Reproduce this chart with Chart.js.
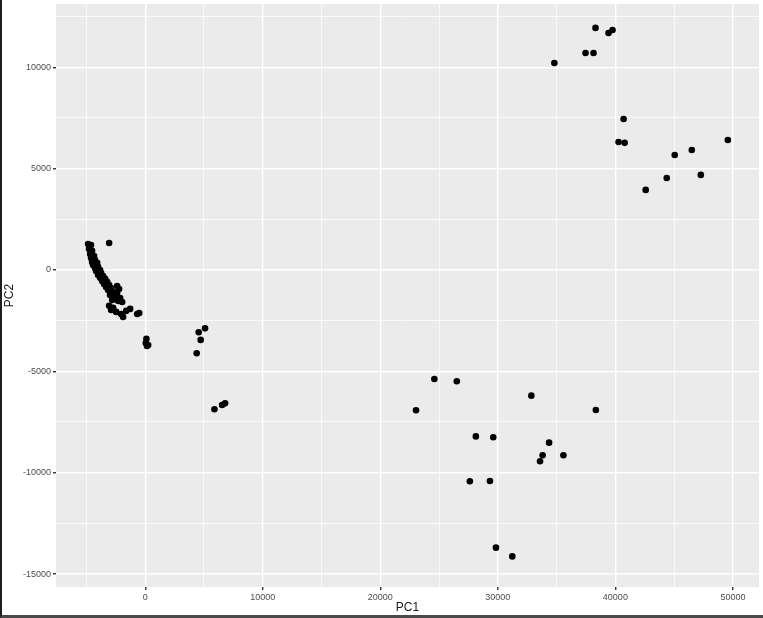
<!DOCTYPE html>
<html>
<head>
<meta charset="utf-8">
<title>PCA scatter</title>
<script src="https://cdn.jsdelivr.net/npm/chart.js@4/dist/chart.umd.min.js"></script>
<style>
  html, body { margin: 0; padding: 0; background: #ffffff; }
  #frame {
    width: 761px;
    height: 615px;
    border-left: 2px solid #1e1e1e;
    border-bottom: 3px solid #4a4a4a;
    position: relative;
  }
</style>
</head>
<body>
<div id="frame"><canvas id="pca"></canvas></div>
<script>
// PC scores
// left dense cluster
const pc1Left = [-4860, -4610, -4780, -4520, -4690, -4350, -4610, -4270, -4520, -4090,
                 -4440, -4010, -4270, -3840, -4180, -3750, -4010, -3580, -3840, -3410,
                 -3670, -3240, -3500, -3070, -3330, -2900, -2390, -2220, -3160, -2730,
                 -2390, -2990, -2560, -2130, -2810, -2300, -1960, -3070, -2730, -2900,
                 -2470, -2050, -1620, -1280, -1880, -680, -510, -3070];
const pc2Left = [1280, 1230, 1040, 940, 790, 690, 590, 490, 390, 350,
                 250, 150, 100, 0, -50, -150, -250, -300, -390, -440,
                 -540, -590, -690, -740, -840, -890, -790, -940, -990, -1080,
                 -1130, -1230, -1330, -1380, -1480, -1530, -1580, -1770, -1870, -1970,
                 -2070, -2170, -2020, -1920, -2320, -2170, -2120, 1330];
// small groups near the origin
const pc1Mid = [100, 50, 250, 150, 4550, 5090, 4720, 4380, 5890, 6540, 6800];
const pc2Mid = [-3400, -3600, -3700, -3750, -3070, -2880, -3450, -4110, -6870, -6660, -6580];
// lower right group
const pc1Low = [24600, 26510, 23040, 32850, 38340, 28130, 29610, 34360, 33810, 33590,
                35580, 27620, 29330, 29840, 31230];
const pc2Low = [-5380, -5490, -6920, -6200, -6910, -8210, -8250, -8520, -9140, -9440,
                -9140, -10420, -10410, -13700, -14130];
// upper right group
const pc1High = [38310, 39760, 39420, 34810, 37460, 38140, 40700, 40270, 40790, 49570,
                 45050, 46500, 47270, 44370, 42580];
const pc2High = [11940, 11840, 11690, 10210, 10700, 10700, 7450, 6310, 6270, 6410,
                 5670, 5920, 4690, 4540, 3950];

// grid positions (major ones get a label)
const xTicks = [-5000, 0, 5000, 10000, 15000, 20000, 25000, 30000, 35000, 40000, 45000, 50000];
const yTicks = [-15000, -12500, -10000, -7500, -5000, -2500, 0, 2500, 5000, 7500, 10000, 12500];
const xLabels = [0, 10000, 20000, 30000, 40000, 50000];
const yLabels = [-15000, -10000, -5000, 0, 5000, 10000];

const pc1 = [].concat(pc1Left, pc1Mid, pc1Low, pc1High);
const pc2 = [].concat(pc2Left, pc2Mid, pc2Low, pc2High);
const points = pc1.map((x, i) => ({ x: x, y: pc2[i] }));

// grey ggplot style panel behind the grid
const panelBg = {
  id: 'panelBg',
  beforeDraw(chart) {
    const a = chart.chartArea;
    const c = chart.ctx;
    c.save();
    c.fillStyle = '#ebebeb';
    c.fillRect(a.left, a.top, a.right - a.left, a.bottom - a.top);
    c.restore();
  }
};

const font = { family: 'Liberation Sans, Arial, sans-serif', size: 9 };
const titleFont = { family: 'Liberation Sans, Arial, sans-serif', size: 12 };

function axisOptions(ticks, labels, title) {
  const major = v => labels.includes(v);
  return {
    type: 'linear',
    border: { display: false },
    afterBuildTicks(scale) {
      scale.ticks = ticks.map(v => ({ value: v }));
    },
    grid: {
      color: '#ffffff',
      lineWidth: ctx => major(ctx.tick.value) ? 1.4 : 0.7,
      tickLength: 3,
      tickColor: ctx => major(ctx.tick.value) ? '#333333' : 'rgba(0,0,0,0)'
    },
    ticks: {
      autoSkip: false,
      maxRotation: 0,
      padding: 2,
      color: '#4d4d4d',
      font: font,
      callback: v => major(v) ? String(v) : ''
    },
    title: {
      display: true,
      text: title,
      color: '#1a1a1a',
      padding: { top: 0, bottom: 0 },
      font: titleFont
    }
  };
}

const xAxis = axisOptions(xTicks, xLabels, 'PC1');
xAxis.min = -7590;
xAxis.max = 52220;
xAxis.afterFit = scale => {
  scale.height = 28;
  scale.paddingLeft = 0;
  scale.paddingRight = 0;
};

const yAxis = axisOptions(yTicks, yLabels, 'PC2');
yAxis.min = -15640;
yAxis.max = 13120;
yAxis.afterFit = scale => {
  scale.width = 54;
  scale.paddingTop = 0;
  scale.paddingBottom = 0;
};

new Chart(document.getElementById('pca'), {
  type: 'scatter',
  data: {
    datasets: [{
      data: points,
      backgroundColor: '#000000',
      borderColor: '#000000',
      pointRadius: 3.3,
      pointHoverRadius: 3.3,
      borderWidth: 0
    }]
  },
  options: {
    responsive: true,
    maintainAspectRatio: false,
    animation: false,
    layout: { padding: { left: 0, top: 4, right: 4, bottom: 0 } },
    plugins: {
      legend: { display: false },
      tooltip: { enabled: false }
    },
    scales: { x: xAxis, y: yAxis }
  },
  plugins: [panelBg]
});
</script>
</body>
</html>
